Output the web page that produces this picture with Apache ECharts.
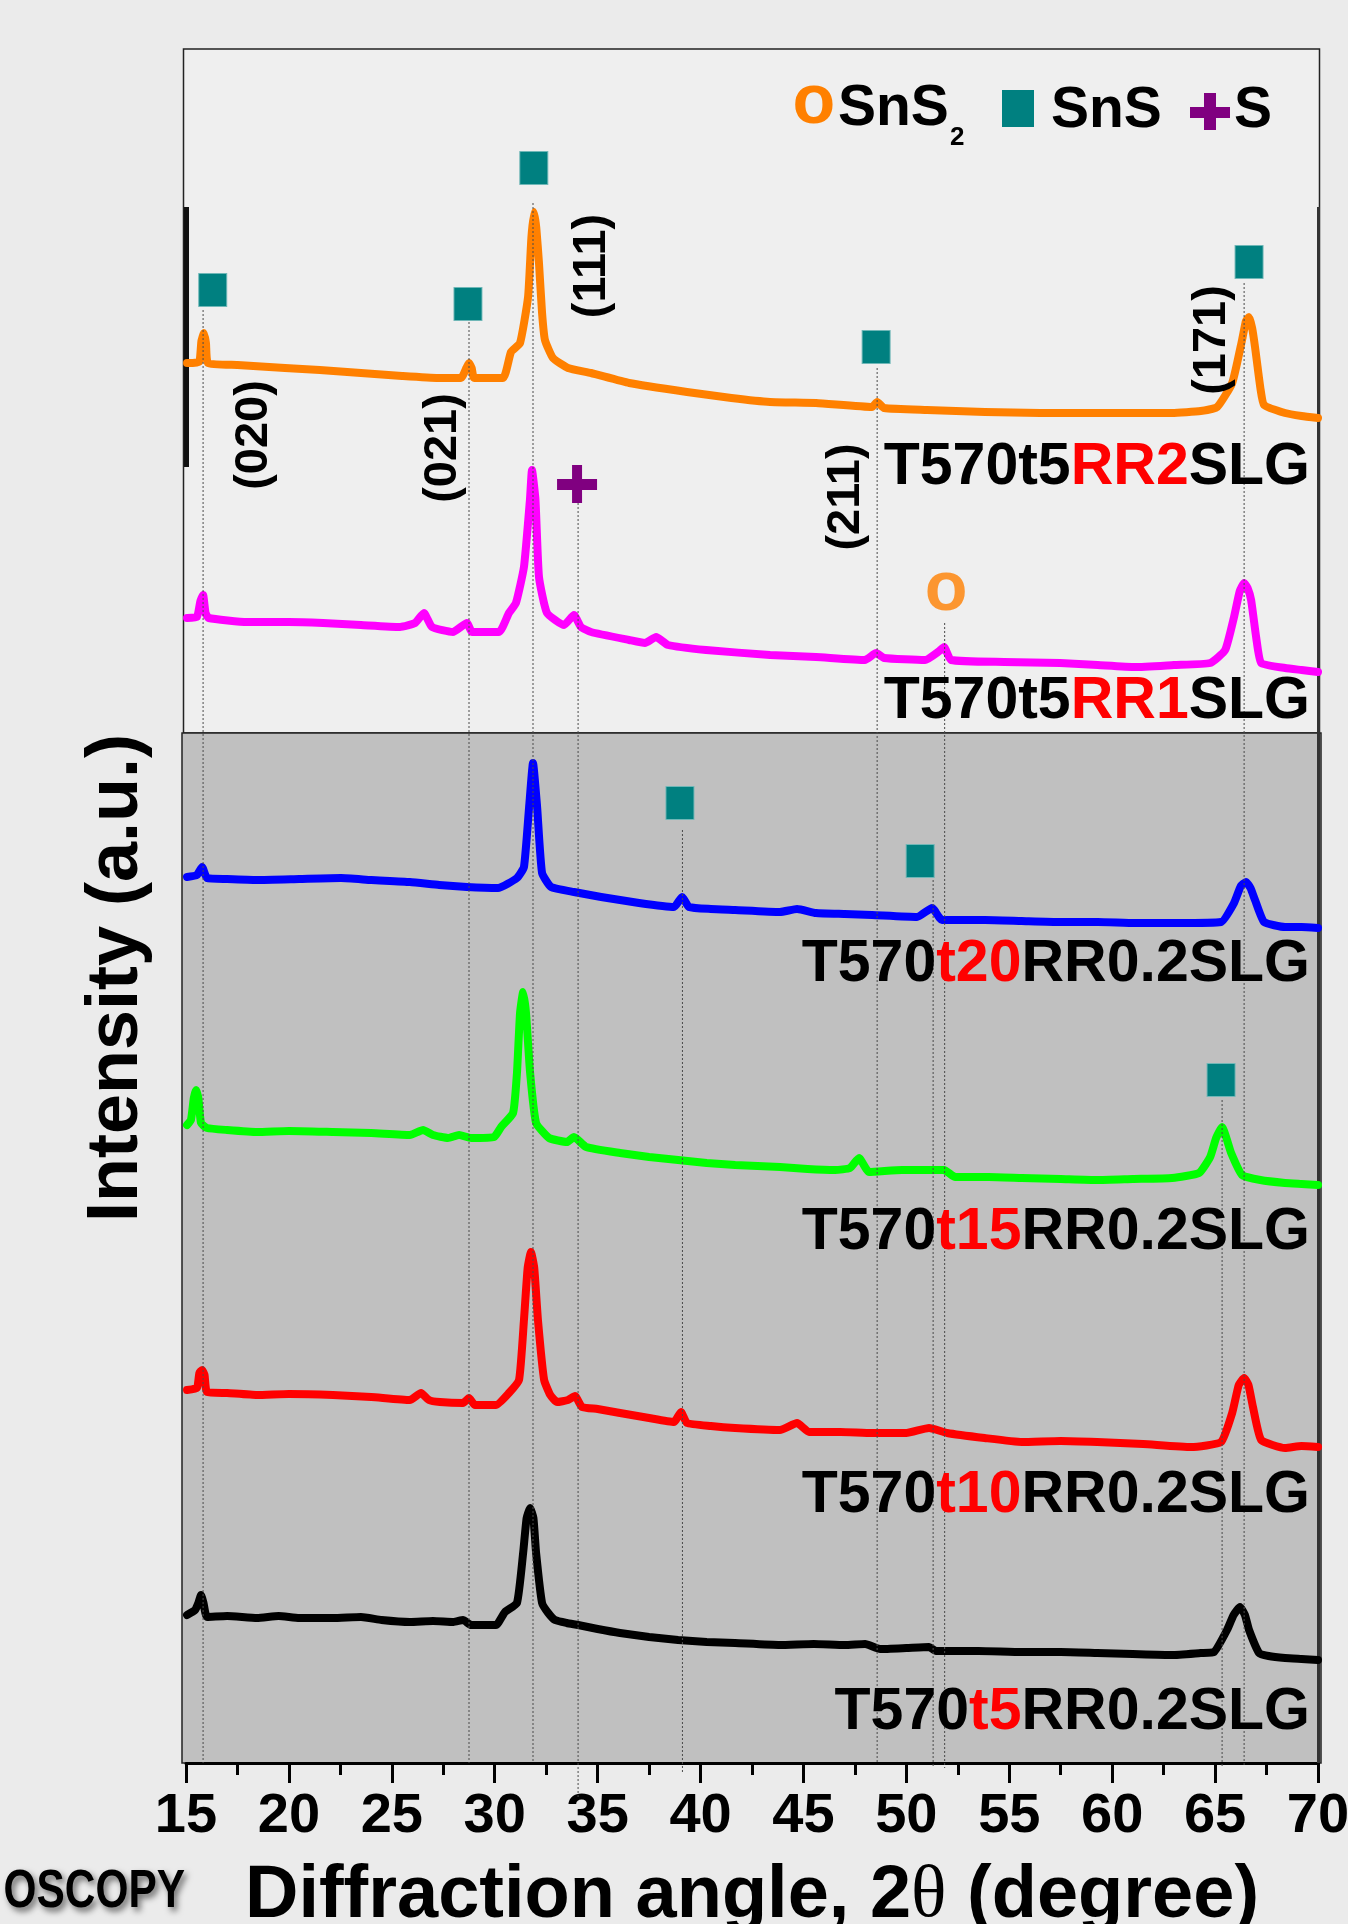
<!DOCTYPE html>
<html>
<head>
<meta charset="utf-8">
<script src="https://cdn.jsdelivr.net/npm/echarts@6/dist/echarts.min.js"></script>
<style>
    html, body { margin: 0; padding: 0; background: #ebebeb; }
    #chart { width: 1348px; height: 1924px; }
</style>
</head>
<body>
<div id="chart"></div>
<script>
// x axis (2θ, degree)
const xMin = 15
const xMax = 70
const xStep = 5

// vertical offset of each pattern in the stack (a.u.)
const offsets = { t5: 0, t10: 250, t15: 500, t20: 750, rr1: 1000, rr2: 1250 }

// patterns, [2θ, intensity a.u.]
const t5 = [[15.05,148],[15.44,153],[15.6,160],[15.73,168],[15.85,160],[16.02,146],[17.0,147],[18.45,145],[19.5,147],[20.5,145],[22.14,145],[23.5,146],[24.5,143],[25.88,141],[27.0,142],[28.0,141],[28.46,143],[28.85,138],[30.06,138],[30.5,151],[31.08,160],[31.38,210],[31.55,245],[31.72,255],[31.88,245],[32.01,210],[32.3,160],[32.6,150],[32.93,143],[33.5,140],[34.05,138],[35.0,134],[36.09,130],[37.5,126],[38.91,123],[40.3,121],[41.68,120],[43.86,118],[45.5,119],[47.0,118],[48.0,119],[48.72,114],[50.0,115],[51.1,116],[51.44,112],[53.5,112],[55.62,111],[57.5,111],[59.27,110],[61.0,109],[62.91,108],[64.3,110],[64.95,111],[65.58,133],[65.9,148],[66.21,156],[66.45,148],[66.65,133],[67.14,110],[67.6,107],[68.4,105],[69.2,104],[70.0,103]]

const t10 = [[15.05,123],[15.53,125],[15.65,140],[15.78,143],[15.9,138],[16.02,121],[17.0,120],[18.45,118],[20.0,119],[22.14,118],[24.0,116],[25.88,113],[26.42,120],[26.8,113],[27.34,111],[28.46,110],[28.75,115],[29.04,108],[30.06,108],[30.69,120],[31.18,133],[31.42,193],[31.6,245],[31.76,261],[31.92,245],[32.1,193],[32.4,133],[32.7,118],[33.03,111],[33.56,113],[33.9,117],[34.24,106],[35.0,104],[36.09,100],[37.5,95],[38.71,91],[39.05,101],[39.34,90],[40.5,87],[41.68,85],[43.86,83],[44.69,90],[45.27,81],[46.8,81],[48.33,80],[50.0,80],[51.1,85],[51.98,80],[53.8,75],[55.62,71],[57.5,72],[59.27,71],[61.5,69],[63.83,66],[65.29,71],[65.83,100],[66.15,128],[66.41,135],[66.62,128],[66.84,106],[67.24,73],[68.4,65],[69.2,67],[70.0,66]]

const t15 = [[15.05,138],[15.24,143],[15.38,165],[15.49,173],[15.6,165],[15.73,140],[16.02,135],[17.0,133],[18.45,131],[20.0,132],[22.14,131],[24.0,130],[25.88,128],[26.52,133],[27.0,128],[27.73,125],[28.27,128],[28.85,125],[29.97,126],[30.31,136],[30.89,150],[31.08,190],[31.23,250],[31.38,271],[31.52,250],[31.72,190],[32.01,140],[32.64,125],[33.51,121],[33.85,126],[34.44,116],[36.09,110],[37.5,106],[38.91,103],[40.3,100],[41.68,98],[43.86,96],[45.2,94],[46.54,93],[47.26,95],[47.7,105],[48.19,91],[49.79,93],[51.83,93],[52.37,86],[54.0,86],[55.62,85],[57.5,84],[59.27,83],[61.0,84],[62.91,85],[64.22,90],[64.76,106],[65.05,125],[65.34,136],[65.55,125],[65.78,110],[66.31,88],[67.2,83],[68.4,80],[69.2,79],[70.0,78]]

const t20 = [[15.05,136],[15.53,138],[15.78,146],[16.02,135],[17.0,134],[18.45,133],[20.5,134],[22.53,135],[24.0,133],[25.88,131],[27.3,128],[28.65,126],[30.16,125],[31.08,135],[31.42,146],[31.67,206],[31.86,250],[32.06,206],[32.3,140],[32.74,126],[33.85,121],[35.17,116],[37.01,110],[38.71,106],[39.1,116],[39.44,106],[40.5,104],[41.68,103],[43.86,101],[44.69,104],[45.61,100],[47.0,99],[48.33,98],[50.52,96],[51.25,105],[51.73,93],[53.82,93],[55.6,92],[57.47,91],[59.3,91],[61.11,90],[63.2,90],[65.29,91],[65.92,110],[66.25,127],[66.5,131],[66.72,125],[66.94,113],[67.38,91],[68.4,86],[69.2,86],[70.0,85]]

const rr1 = [[15.05,145],[15.53,146],[15.7,162],[15.83,168],[15.95,150],[16.1,145],[17.96,141],[20.0,141],[21.66,140],[23.5,138],[25.4,136],[26.13,140],[26.56,150],[26.95,136],[27.97,131],[28.65,140],[28.9,131],[30.21,131],[30.69,150],[31.03,160],[31.42,196],[31.71,263],[31.81,293],[31.98,263],[32.15,186],[32.54,150],[33.37,138],[33.85,148],[34.19,136],[34.68,131],[36.53,123],[37.3,120],[37.84,126],[38.42,118],[40.27,113],[43.38,108],[45.61,106],[47.99,103],[48.53,110],[48.92,105],[50.91,103],[51.6,112],[51.83,116],[52.17,103],[54.75,101],[57.47,100],[59.3,98],[61.11,96],[63.0,98],[64.76,100],[65.49,113],[65.92,146],[66.2,172],[66.41,180],[66.58,175],[66.75,163],[67.0,125],[67.24,100],[68.4,95],[69.2,93],[70.0,91]]

const rr2 = [[15.05,150],[15.63,151],[15.75,172],[15.87,180],[15.97,170],[16.07,150],[17.5,148],[19.81,145],[21.5,143],[23.5,140],[25.5,137],[27.25,135],[28.36,135],[28.62,145],[28.75,150],[28.88,145],[29.0,135],[30.4,135],[30.79,161],[31.23,170],[31.62,216],[31.78,275],[31.91,301],[32.02,285],[32.15,250],[32.3,200],[32.44,173],[32.83,155],[33.56,145],[34.68,140],[36.53,130],[39.34,121],[41.5,115],[43.38,111],[45.61,110],[48.33,106],[48.58,111],[48.92,105],[51.0,103],[53.82,101],[56.5,100],[59.27,100],[62.91,100],[64.3,102],[65.1,106],[65.83,130],[66.31,173],[66.5,192],[66.65,196],[66.8,185],[66.94,166],[67.2,125],[67.38,108],[68.4,100],[69.2,97],[70.0,95]]

// dotted guide lines: [2θ, top, bottom] (a.u. on the stacked scale)
const refLines = [[15.83,1453,0],[28.75,1441,0],[31.86,1560,0],[34.05,1260,-35],[39.12,933,-10],[48.58,1395,0],[51.3,883,-5],[51.86,1140,-5],[65.34,663,-4],[66.41,1480,-4]]

// phase markers: [2θ, height]
const snsMarks = [[16.3,1473],[28.7,1459],[31.9,1595],[48.53,1416],[66.65,1501],[39.0,960],[50.67,902],[65.29,683]]
const sMarks = [[34.0,1279]]
const sns2Marks = [[51.93,1172]]

const font = 'Liberation Sans, Arial, sans-serif'

function shift(data, off) {
    return data.map(p => [p[0], p[1] + off])
}

function curve(name, data, off, color) {
    return {
        name: name,
        type: 'line',
        data: shift(data, off),
        showSymbol: false,
        symbol: 'none',
        smooth: 0.15,
        clip: false,
        z: 3,
        lineStyle: { color: color, width: 8, cap: 'round', join: 'round' }
    }
}

function sampleLabel(y, a, red, b) {
    return {
        type: 'text', x: 1310, y: y, z: 10,
        style: {
            text: `{k|${a}}{r|${red}}{k|${b}}`,
            align: 'right', verticalAlign: 'middle',
            rich: {
                k: { fill: '#000', fontSize: 59, fontWeight: 'bold', fontFamily: font },
                r: { fill: '#ff0000', fontSize: 59, fontWeight: 'bold', fontFamily: font }
            }
        }
    }
}

function hkl(x, y, t) {
    return {
        type: 'text', x: x, y: y, rotation: Math.PI / 2, z: 10,
        style: { text: t, align: 'center', verticalAlign: 'middle', fill: '#000', fontSize: 47, fontWeight: 'bold', fontFamily: font }
    }
}

function txt(x, y, t, size, color, align) {
    return {
        type: 'text', x: x, y: y, z: 10,
        style: { text: t, align: align || 'left', verticalAlign: 'middle', fill: color || '#000', fontSize: size, fontWeight: 'bold', fontFamily: font }
    }
}

let chart = echarts.init(document.querySelector('#chart'))

let option = {
    backgroundColor: '#ebebeb',
    animation: false,
    grid: { left: 186, right: 30, top: 49, bottom: 161, outerBoundsMode: 'none', containLabel: false },
    xAxis: {
        type: 'value',
        min: xMin, max: xMax, interval: xStep,
        axisLine: { lineStyle: { color: '#000', width: 3 } },
        axisTick: { length: 20, lineStyle: { color: '#000', width: 3 } },
        minorTick: { show: true, splitNumber: 2, length: 12, lineStyle: { color: '#000', width: 3 } },
        splitLine: { show: false },
        axisLabel: { fontSize: 56, fontWeight: 'bold', color: '#000', margin: 26, fontFamily: font },
        name: 'Diffraction angle, 2{t|θ} (degree)',
        nameLocation: 'middle',
        nameGap: 97,
        nameTextStyle: {
            fontSize: 74, fontWeight: 'bold', color: '#000', fontFamily: font,
            rich: { t: { fontSize: 74, fontWeight: 'normal', fontFamily: 'Liberation Serif, serif', color: '#000' } }
        }
    },
    yAxis: { type: 'value', min: 0, max: 1714, show: false },
    series: [
        curve('T570t5RR0.2SLG', t5, offsets.t5, '#000000'),
        curve('T570t10RR0.2SLG', t10, offsets.t10, '#ff0000'),
        curve('T570t15RR0.2SLG', t15, offsets.t15, '#00ff00'),
        curve('T570t20RR0.2SLG', t20, offsets.t20, '#0000ff'),
        curve('T570t5RR1SLG', rr1, offsets.rr1, '#ff00ff'),
        curve('T570t5RR2SLG', rr2, offsets.rr2, '#ff8000'),
        {
            type: 'custom',
            data: refLines,
            clip: false,
            z: 4,
            silent: true,
            renderItem: function (params, api) {
                let top = api.coord([api.value(0), api.value(1)])
                let bot = api.coord([api.value(0), api.value(2)])
                return {
                    type: 'line',
                    shape: { x1: top[0], y1: top[1], x2: bot[0], y2: bot[1] },
                    style: { stroke: '#4a4a4a', lineWidth: 1, lineDash: [2, 2] }
                }
            }
        },
        {
            name: 'SnS',
            type: 'scatter',
            data: snsMarks,
            symbol: 'rect',
            symbolSize: [28, 33],
            z: 5,
            itemStyle: { color: '#008080', borderColor: '#6fb7b7', borderWidth: 1, opacity: 1 }
        },
        {
            name: 'S',
            type: 'scatter',
            data: sMarks,
            symbol: 'path://M15,0h10v14h15v11h-15v13h-10v-13h-15v-11h15z',
            symbolSize: [40, 38],
            symbolKeepAspect: false,
            z: 5,
            itemStyle: { color: '#800080', opacity: 1 }
        },
        {
            name: 'SnS2',
            type: 'scatter',
            data: sns2Marks,
            symbolSize: 2,
            z: 5,
            itemStyle: { color: 'rgba(0,0,0,0)' },
            label: {
                show: true, position: 'inside', formatter: 'o',
                fontSize: 70, fontWeight: 'bold', color: '#ff8000', fontFamily: font
            }
        }
    ],
    graphic: [
        // panels
        { type: 'rect', z: 0, shape: { x: 183.5, y: 49, width: 1136, height: 684 }, style: { fill: '#efefef', stroke: '#222', lineWidth: 1.5 } },
        { type: 'rect', z: 0, shape: { x: 182, y: 733, width: 1139, height: 1030 }, style: { fill: '#c0c0c0', stroke: '#222', lineWidth: 1.5 } },
        { type: 'rect', z: 1, shape: { x: 184, y: 207, width: 5, height: 260 }, style: { fill: '#111' } },
        { type: 'rect', z: 1, shape: { x: 1317, y: 207, width: 3, height: 1556 }, style: { fill: '#333' } },

        // legend
        txt(814, 104, 'o', 70, '#ff8000', 'center'),
        txt(838, 109, 'SnS', 57),
        txt(950, 138, '2', 26),
        { type: 'rect', z: 10, shape: { x: 1002, y: 90, width: 32, height: 37 }, style: { fill: '#008080' } },
        txt(1051, 111, 'SnS', 57),
        { type: 'rect', z: 10, shape: { x: 1190, y: 107, width: 40, height: 11 }, style: { fill: '#800080' } },
        { type: 'rect', z: 10, shape: { x: 1204, y: 93, width: 12, height: 37 }, style: { fill: '#800080' } },
        txt(1234, 111, 'S', 57),

        // Miller indices
        hkl(254, 435, '(020)'),
        hkl(443, 448, '(021)'),
        hkl(592, 266, '(111)'),
        hkl(846, 497, '(211)'),
        hkl(1212, 340, '(171)'),

        // sample names
        sampleLabel(468, 'T570t5', 'RR2', 'SLG'),
        sampleLabel(702, 'T570t5', 'RR1', 'SLG'),
        sampleLabel(965, 'T570', 't20', 'RR0.2SLG'),
        sampleLabel(1233, 'T570', 't15', 'RR0.2SLG'),
        sampleLabel(1496, 'T570', 't10', 'RR0.2SLG'),
        sampleLabel(1713, 'T570', 't5', 'RR0.2SLG'),

        // y axis title
        {
            type: 'text', x: 117, y: 978, rotation: Math.PI / 2, z: 10,
            style: { text: 'Intensity (a.u.)', align: 'center', verticalAlign: 'middle', fill: '#000', fontSize: 72, fontWeight: 'bold', fontFamily: font }
        },

        // cropped watermark at bottom left
        {
            type: 'text', x: 185, y: 1892, scaleX: 0.8, z: 10,
            style: {
                text: 'OSCOPY', align: 'right', verticalAlign: 'middle', fill: '#000',
                fontSize: 53, fontWeight: 'bold', fontFamily: font,
                textShadowColor: 'rgba(0,0,0,0.55)', textShadowBlur: 6, textShadowOffsetX: 3, textShadowOffsetY: 4
            }
        }
    ]
}

chart.setOption(option)
</script>
</body>
</html>
